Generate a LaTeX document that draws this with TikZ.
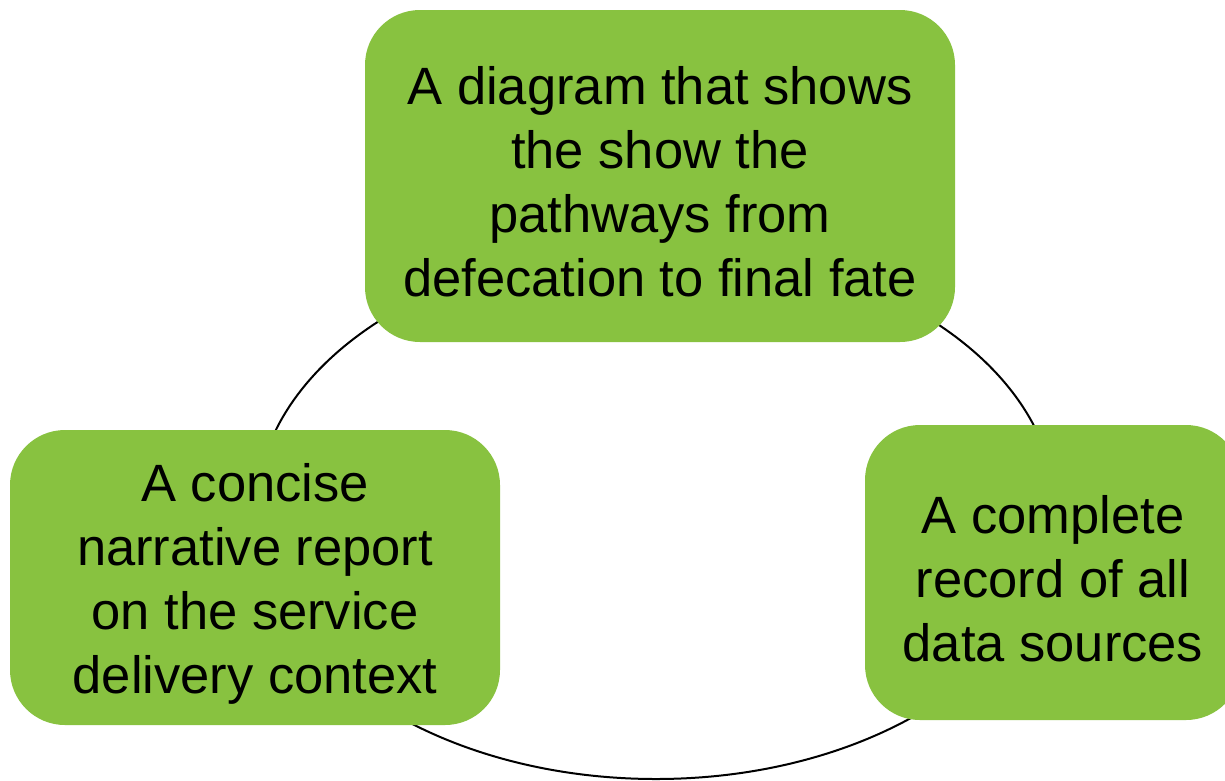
\documentclass[tikz,border=0pt]{standalone}
\usepackage{fontspec}
\setmainfont{Liberation Sans}
\definecolor{boxgreen}{RGB}{136,194,64}
\newcommand{\firstline}{\rule{0pt}{50pt}}
\tikzset{
  greenbox/.style={rectangle, rounded corners=55pt, fill=boxgreen, draw=none,
    inner sep=0pt, align=center, text=black,
    font=\fontsize{52.5}{64}\selectfont},
  ring/.style={draw=black, line width=2pt}
}
\begin{document}
\begin{tikzpicture}[x=1pt,y=-1pt]
\useasboundingbox (0,0) rectangle (1225,780);
\clip (0,0) rectangle (1225,780);
\draw[ring] (656,513) ellipse [x radius=400pt, y radius=266pt];
\node[greenbox, minimum width=590pt, minimum height=332pt] (top) at (660,176)
  {\firstline A diagram that shows\\the show the\\pathways from\\defecation to final fate};
\node[greenbox, minimum width=490pt, minimum height=295pt] (left) at (255,577.5)
  {\firstline A concise\\narrative report\\on the service\\delivery context};
\node[greenbox, minimum width=376pt, minimum height=295pt] (right) at (1053,572.5)
  {\firstline A complete\\record of all\\data sources};
\end{tikzpicture}
\end{document}
